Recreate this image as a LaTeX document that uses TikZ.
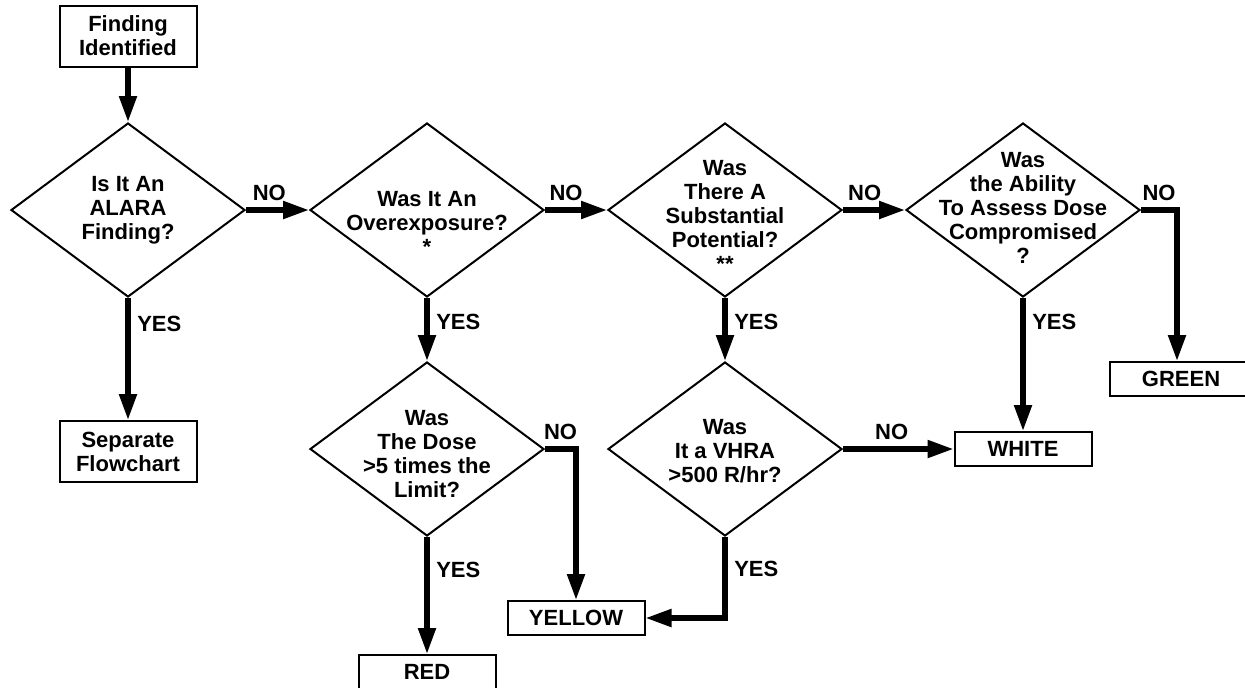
\documentclass[tikz,border=0pt]{standalone}
\usepackage{fontspec}
\setmainfont{Liberation Sans}
\usetikzlibrary{shapes.geometric,arrows.meta}

\begin{document}
\begin{tikzpicture}[x=0.5pt, y=-0.5pt,
  font=\fontsize{11}{12}\selectfont\bfseries,
  box/.style = {draw, line width=1pt, minimum width=68.5pt, align=center, inner sep=0pt},
  decision/.style = {draw, diamond, line width=1pt, minimum width=117pt, minimum height=87pt, inner sep=0pt},
  flow/.style = {line width=2.6pt, -{Triangle[length=13pt,width=8.5pt]}},
  every label/.style = {align=center}]
  \useasboundingbox (0,0) rectangle (1245,687);

  \node[box, minimum height=30.5pt] (found) at (128,36) {Finding\\Identified};
  \node[decision, label={center:Is It An\\ALARA\\Finding?}] (alara) at (128,210) {};
  \node[decision, label={[yshift=-6.5pt]center:Was It An\\Overexposure?\\*}] (over) at (427,210) {};
  \node[decision, label={[yshift=-3pt]center:Was\\There A\\Substantial\\Potential?\\**}] (subst) at (725,210) {};
  \node[decision, label={[yshift=1pt]center:Was\\the Ability\\To Assess Dose\\Compromised\\?}] (assess) at (1023,210) {};
  \node[box, minimum height=30.5pt] (sep) at (128,451.5) {Separate\\Flowchart};
  \node[decision, label={[yshift=-2.5pt]center:Was\\The Dose\\>5 times the\\Limit?}] (dose) at (427,449) {};
  \node[decision, label={[yshift=-1pt]center:Was\\It a VHRA\\>500 R/hr?}] (vhra) at (725,449) {};
  \node[box, minimum height=17pt] (white) at (1023,449) {WHITE};
  \node[box, minimum height=17pt, minimum width=71pt] (green) at (1181,379) {GREEN};
  \node[box, minimum height=17pt] (yellow) at (576,618) {YELLOW};
  \node[box, minimum height=17pt] (red) at (427,672) {RED};

  \draw[flow] (found) -- (alara);
  \draw[flow] (alara) -- node[above, pos=0.37]{NO} (over);
  \draw[flow] (over) -- node[above, pos=0.34]{NO} (subst);
  \draw[flow] (subst) -- node[above, pos=0.35]{NO} (assess);
  \draw[flow] (assess.east) -| node[above, pos=0.25]{NO} ([xshift=-2pt]green.north);
  \draw[flow] (alara) -- node[right, pos=0.21]{YES} (sep);
  \draw[flow] (over) -- node[right, pos=0.38]{YES} (dose);
  \draw[flow] (subst) -- node[right, pos=0.38]{YES} (vhra);
  \draw[flow] (assess) -- node[right, pos=0.18]{YES} (white);
  \draw[flow] (dose) -- node[right, pos=0.28]{YES} (red);
  \draw[flow] (dose.east) -| node[above, pos=0.25]{NO} (yellow.north);
  \draw[flow] (vhra.south) |- node[right, pos=0.2]{YES} (yellow.east);
  \draw[flow] (vhra) -- node[above, pos=0.44]{NO} (white);
\end{tikzpicture}
\end{document}
